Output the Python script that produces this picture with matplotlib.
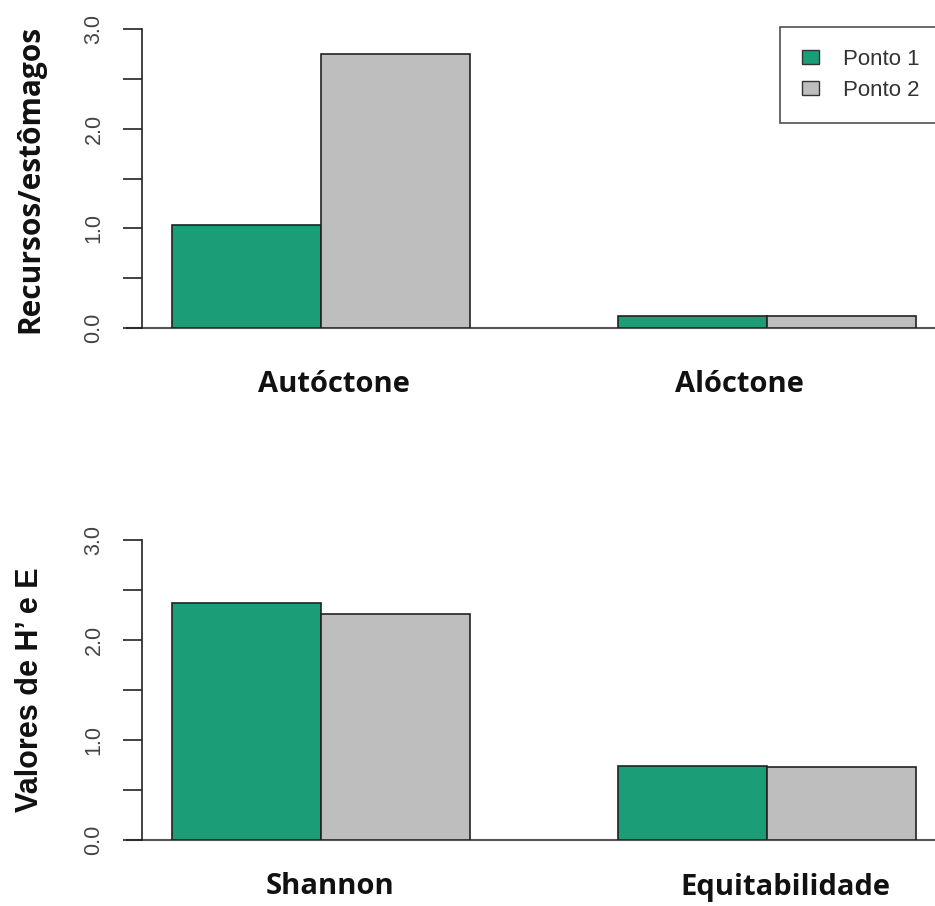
import matplotlib
matplotlib.use("Agg")
import matplotlib.pyplot as plt
from matplotlib.patches import Patch
import numpy as np

categories_top = ["Autóctone", "Alóctone"]
ponto1_top = [1.03, 0.12]
ponto2_top = [2.75, 0.12]

categories_bottom = ["Shannon", "Equitabilidade"]
ponto1_bottom = [2.37, 0.74]
ponto2_bottom = [2.26, 0.73]

series_labels = ["Ponto 1", "Ponto 2"]
colors = ["#1b9e77", "#bebebe"]
ytick_major = [0.0, 1.0, 2.0, 3.0]
ytick_labels = ["0.0", "1.0", "2.0", "3.0"]
ytick_minor = [0.5, 1.5, 2.5]

W, H = 935, 906
fig = plt.figure(figsize=(W / 100, H / 100), dpi=100)

def px_axes(x0, x1, ytop, ybot):
    return fig.add_axes([x0 / W, 1 - ybot / H, (x1 - x0) / W, (ybot - ytop) / H])

def draw_panel(ax, cats, v1, v2, ylabel, ylabel_font, ylabel_size,
               cat_px_x, cat_px_y):
    lefts1 = np.array([1.0, 4.0])
    lefts2 = lefts1 + 1.0
    ax.bar(lefts1, v1, width=1.0, align="edge", color=colors[0],
           edgecolor="#222222", linewidth=1.2)
    ax.bar(lefts2, v2, width=1.0, align="edge", color=colors[1],
           edgecolor="#222222", linewidth=1.2)
    ax.set_xlim(0.8, 6.2)
    ax.set_ylim(0, 3)
    for s in ["top", "right", "bottom"]:
        ax.spines[s].set_visible(False)
    ax.spines["left"].set_linewidth(1.2)
    ax.spines["left"].set_color("#222222")
    ax.set_yticks(ytick_major)
    ax.set_yticklabels(ytick_labels, rotation=90, va="center",
                       fontsize=15.5, color="#444444", family="Liberation Sans")
    ax.set_yticks(ytick_minor, minor=True)
    ax.tick_params(axis="y", which="both", length=14, width=1.2,
                   color="#222222", pad=13, direction="out")
    ax.set_xticks([])
    ax.plot([0.7, 6.3], [0, 0], color="#555555", lw=1.5, clip_on=False,
            zorder=0)
    for c, px in zip(cats, cat_px_x):
        fig.text(px / W, 1 - cat_px_y / H, c, ha="center", va="center",
                 fontsize=21, fontweight="bold", family="Open Sans",
                 color="#111111")
    ax.text(-112 / 804, 0.5, ylabel, transform=ax.transAxes, rotation=90,
            ha="center", va="center", fontsize=ylabel_size, fontweight="bold",
            family=ylabel_font, color="#111111")
    return ax

ax1 = px_axes(142, 946, 29, 328)
draw_panel(ax1, categories_top, ponto1_top, ponto2_top,
           "Recursos/estômagos", "Open Sans", 21.5, [334, 739], 384)

ax2 = px_axes(142, 946, 540, 840)
draw_panel(ax2, categories_bottom, ponto1_bottom, ponto2_bottom,
           "Valores de H’ e E", "Liberation Sans", 22, [330, 785], 887)

handles = [Patch(facecolor=colors[0], edgecolor="#333333"),
           Patch(facecolor=colors[1], edgecolor="#333333")]
leg = ax1.legend(handles, series_labels, loc="upper left",
                 bbox_to_anchor=(780 / W, 1 - 27 / H),
                 bbox_transform=fig.transFigure,
                 prop={"family": "Liberation Sans", "size": 16},
                 frameon=True, fancybox=False, edgecolor="#222222",
                 handlelength=0.75, handleheight=0.6, handletextpad=1.1,
                 borderpad=1.0, labelspacing=0.45, borderaxespad=0)
leg.get_frame().set_linewidth(1.2)
for t in leg.get_texts():
    t.set_color("#333333")

fig.savefig("out.png", dpi=100)
